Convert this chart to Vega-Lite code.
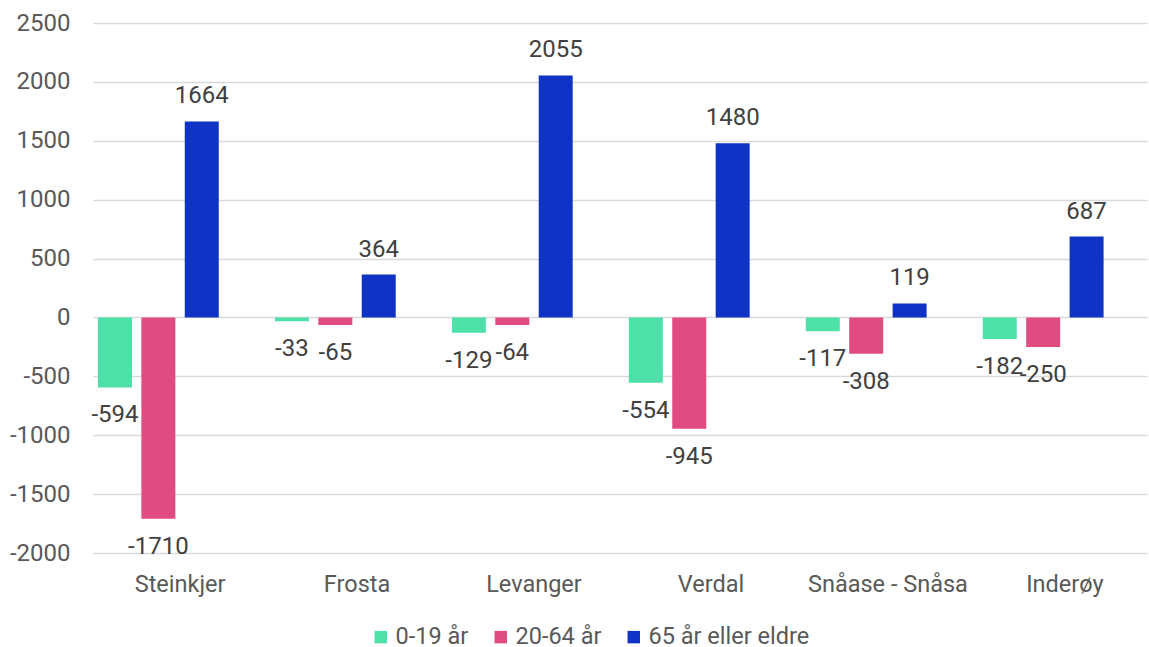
{
  "$schema": "https://vega.github.io/schema/vega-lite/v6.json",
  "width": 1054,
  "height": 530,
  "autosize": "none",
  "padding": {"left": 93, "top": 23, "right": 2, "bottom": 94},
  "background": "white",
  "config": {
    "view": {"stroke": null},
    "font": "Roboto"
  },
  "data": {
    "values": [
      {"kommune": "Steinkjer", "gruppe": "0-19 år", "verdi": -594},
      {"kommune": "Steinkjer", "gruppe": "20-64 år", "verdi": -1710},
      {"kommune": "Steinkjer", "gruppe": "65 år eller eldre", "verdi": 1664},
      {"kommune": "Frosta", "gruppe": "0-19 år", "verdi": -33},
      {"kommune": "Frosta", "gruppe": "20-64 år", "verdi": -65},
      {"kommune": "Frosta", "gruppe": "65 år eller eldre", "verdi": 364},
      {"kommune": "Levanger", "gruppe": "0-19 år", "verdi": -129},
      {"kommune": "Levanger", "gruppe": "20-64 år", "verdi": -64},
      {"kommune": "Levanger", "gruppe": "65 år eller eldre", "verdi": 2055},
      {"kommune": "Verdal", "gruppe": "0-19 år", "verdi": -554},
      {"kommune": "Verdal", "gruppe": "20-64 år", "verdi": -945},
      {"kommune": "Verdal", "gruppe": "65 år eller eldre", "verdi": 1480},
      {"kommune": "Snåase - Snåsa", "gruppe": "0-19 år", "verdi": -117},
      {"kommune": "Snåase - Snåsa", "gruppe": "20-64 år", "verdi": -308},
      {"kommune": "Snåase - Snåsa", "gruppe": "65 år eller eldre", "verdi": 119},
      {"kommune": "Inderøy", "gruppe": "0-19 år", "verdi": -182},
      {"kommune": "Inderøy", "gruppe": "20-64 år", "verdi": -250},
      {"kommune": "Inderøy", "gruppe": "65 år eller eldre", "verdi": 687}
    ]
  },
  "encoding": {
    "x": {
      "field": "kommune",
      "type": "nominal",
      "sort": null,
      "scale": {"paddingInner": 0.072, "paddingOuter": 0.014, "align": 1},
      "axis": {
        "title": null,
        "domain": false,
        "ticks": false,
        "labelAngle": 0,
        "labelFontSize": 23.5,
        "labelColor": "#595959",
        "labelPadding": 19,
        "grid": false
      }
    },
    "xOffset": {
      "field": "gruppe",
      "type": "nominal",
      "scale": {
        "domain": ["0-19 år", "20-64 år", "65 år eller eldre", "_"],
        "paddingInner": 0.217,
        "paddingOuter": 0
      }
    },
    "y": {
      "field": "verdi",
      "type": "quantitative",
      "scale": {"domain": [-2000, 2500], "nice": false, "zero": false},
      "axis": {
        "title": null,
        "values": [-2000, -1500, -1000, -500, 0, 500, 1000, 1500, 2000, 2500],
        "labelExpr": "'' + datum.value",
        "domain": false,
        "ticks": false,
        "labelFontSize": 24,
        "labelColor": "#595959",
        "labelPadding": 23,
        "gridColor": "#d9d9d9",
        "gridWidth": 1.5
      }
    }
  },
  "layer": [
    {
      "mark": {"type": "bar"},
      "encoding": {
        "color": {
          "field": "gruppe",
          "type": "nominal",
          "scale": {
            "domain": ["0-19 år", "20-64 år", "65 år eller eldre"],
            "range": ["#4de0a8", "#e04c82", "#0f33c4"]
          },
          "legend": {
            "title": null,
            "orient": "none",
            "direction": "horizontal",
            "legendX": 276,
            "legendY": 602,
            "symbolType": "square",
            "symbolSize": 155,
            "symbolStrokeWidth": 0,
            "labelFontSize": 23.5,
            "labelColor": "#595959",
            "labelOffset": 3,
            "labelLimit": 400,
            "columnPadding": 20
          }
        }
      }
    },
    {
      "transform": [{"filter": "datum.verdi >= 0"}],
      "mark": {"type": "text", "baseline": "alphabetic", "dy": -18, "fontSize": 24, "color": "#404040"},
      "encoding": {"text": {"field": "verdi", "type": "nominal"}}
    },
    {
      "transform": [{"filter": "datum.verdi < 0"}],
      "mark": {"type": "text", "baseline": "alphabetic", "dy": 35, "fontSize": 24, "color": "#404040"},
      "encoding": {"text": {"field": "verdi", "type": "nominal"}}
    }
  ]
}
